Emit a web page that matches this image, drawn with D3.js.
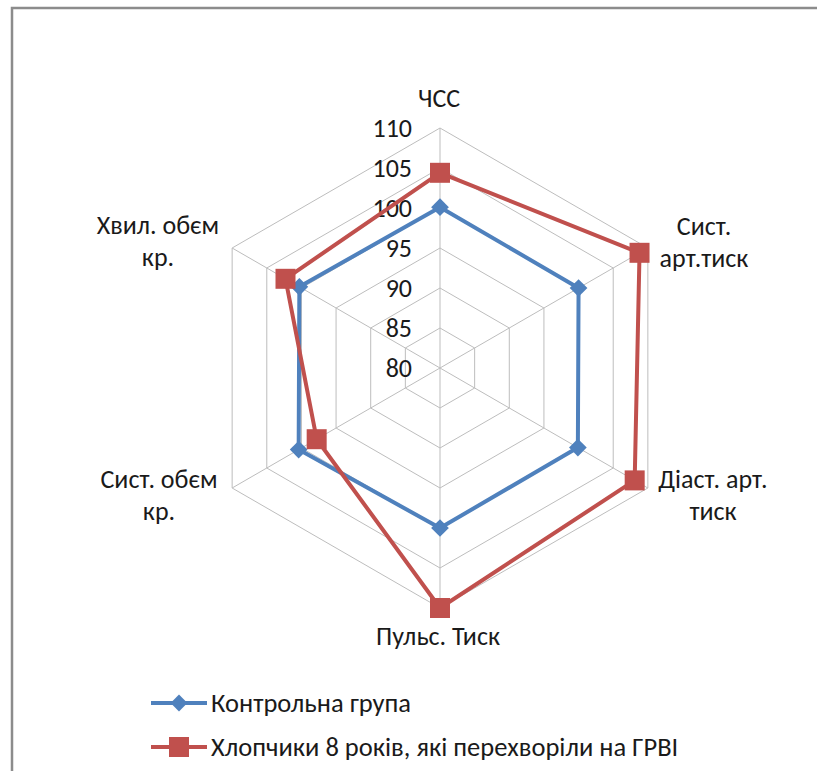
<!DOCTYPE html>
<html>
<head>
<meta charset="utf-8">
<script src="https://cdn.jsdelivr.net/npm/d3@7"></script>
<style>
  html, body { margin: 0; padding: 0; background: #fff; }
  svg { display: block; }
  text { font-family: Carlito, Lato, "Open Sans", sans-serif; fill: #1a1a1a; }
</style>
</head>
<body>
<svg id="chart" width="817" height="771"></svg>
<script>
// Radar axes (clockwise from the top)
const categories = [
  ["ЧСС"],
  ["Сист.", "арт.тиск"],
  ["Діаст. арт.", "тиск"],
  ["Пульс. Тиск"],
  ["Сист. обєм", "кр."],
  ["Хвил. обєм", "кр."]
];
const controlValues = [100.1, 100, 99.9, 100, 100.4, 100.3];
const arviValues    = [104.4, 108.8, 108.1, 110, 97.8, 102.3];
const seriesNames = ["Контрольна група", "Хлопчики 8 років, які перехворіли на ГРВІ"];
const tickValues = [80, 85, 90, 95, 100, 105, 110];

const svg = d3.select("#chart");
const cx = 440, cy = 368, R = 240;
const r = d3.scaleLinear().domain([80, 110]).range([0, R]);
const n = categories.length;
const angle = i => -Math.PI / 2 + i * 2 * Math.PI / n;
const pt = (i, v) => [cx + r(v) * Math.cos(angle(i)), cy + r(v) * Math.sin(angle(i))];

// outer frame
svg.append("path")
  .attr("d", "M12,830 L12,8 L830,8")
  .attr("fill", "none").attr("stroke", "#8c8c8c").attr("stroke-width", 2.5);

// grid rings
const grid = svg.append("g").attr("stroke", "#bdbdbd").attr("stroke-width", 1).attr("fill", "none");
tickValues.slice(1).forEach(t => {
  grid.append("path").attr("d", d3.line()(d3.range(n).map(i => pt(i, t))) + "Z");
});
// spokes
d3.range(n).forEach(i => {
  const [x, y] = pt(i, 110);
  grid.append("line").attr("x1", cx).attr("y1", cy).attr("x2", x).attr("y2", y);
});

// tick labels along the vertical spoke
svg.append("g").selectAll("text").data(tickValues).join("text")
  .attr("x", cx - 28).attr("y", d => cy - r(d))
  .attr("text-anchor", "end").attr("dominant-baseline", "central")
  .attr("font-size", 26).text(d => d);

// category labels
const labelPos = [
  [439, 98], [704, 226], [713, 479], [438, 636], [159, 479], [158, 225]
];
svg.append("g").selectAll("text").data(categories).join("text")
  .attr("text-anchor", "middle").attr("font-size", 26)
  .each(function (lines, i) {
    const t = d3.select(this);
    lines.forEach((s, k) => {
      t.append("tspan").attr("x", labelPos[i][0]).attr("y", labelPos[i][1] + k * 32)
        .attr("dominant-baseline", "central").text(s);
    });
  });

const colors = ["#4f81bd", "#c0504d"];
const line = d3.line().curve(d3.curveLinearClosed);

function drawSeries(values, color, marker) {
  const pts = values.map((v, i) => pt(i, v));
  svg.append("path").attr("d", line(pts)).attr("fill", "none")
    .attr("stroke", color).attr("stroke-width", 4).attr("stroke-linejoin", "round");
  svg.append("g").selectAll("path").data(pts).join("path")
    .attr("transform", d => `translate(${d[0]},${d[1]})`)
    .attr("d", marker).attr("fill", color);
}
const diamond = d3.symbol(d3.symbolDiamond2, 200)();
const square = "M-10,-10H10V10H-10Z";
drawSeries(controlValues, colors[0], diamond);
drawSeries(arviValues, colors[1], square);

// legend
const legend = svg.append("g");
[703, 747].forEach((y, k) => {
  legend.append("line").attr("x1", 151).attr("x2", 207).attr("y1", y).attr("y2", y)
    .attr("stroke", colors[k]).attr("stroke-width", 4);
  legend.append("path").attr("transform", `translate(179,${y})`)
    .attr("d", k === 0 ? d3.symbol(d3.symbolDiamond2, 180)() : "M-10,-10H10V10H-10Z")
    .attr("fill", colors[k]);
  legend.append("text").attr("x", 211).attr("y", y).attr("dominant-baseline", "central")
    .attr("font-size", 26.5).text(seriesNames[k]);
});
</script>
</body>
</html>
